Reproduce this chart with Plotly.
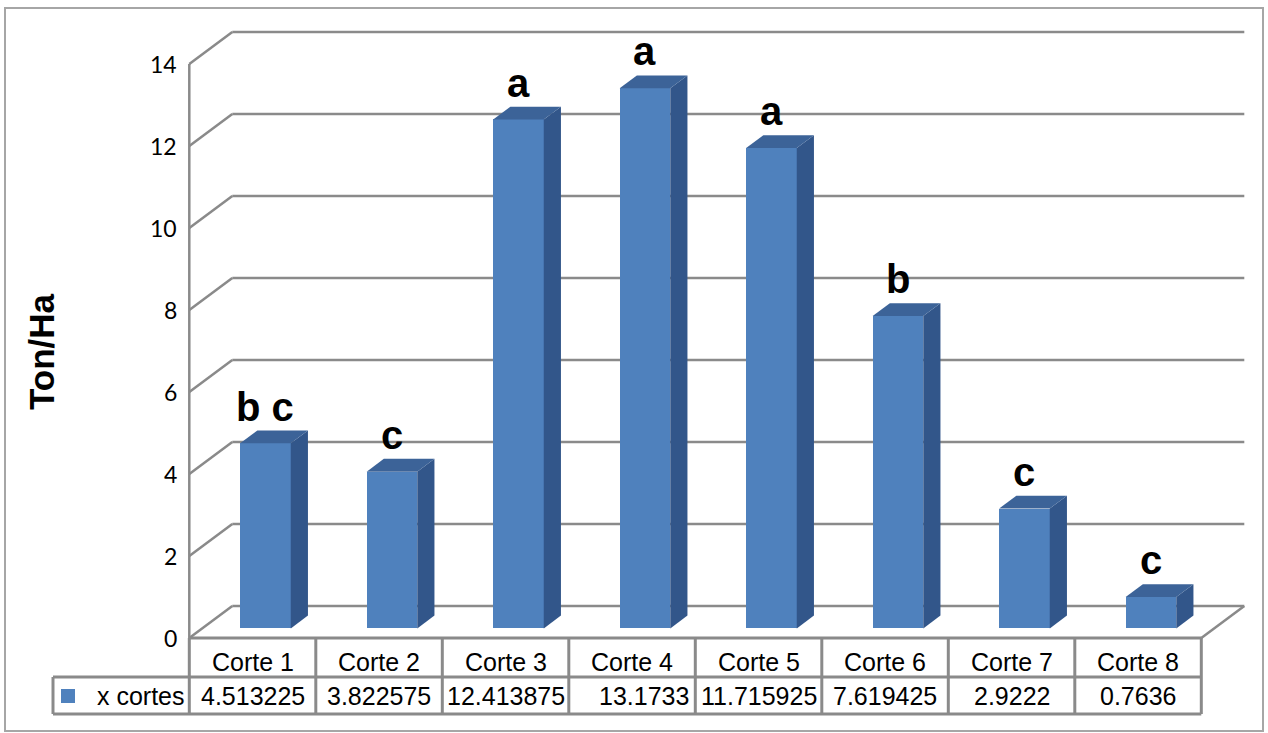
import plotly.graph_objects as go

# ---- data ----
categories = ["Corte 1", "Corte 2", "Corte 3", "Corte 4", "Corte 5", "Corte 6", "Corte 7", "Corte 8"]
values = [4.513225, 3.822575, 12.413875, 13.1733, 11.715925, 7.619425, 2.9222, 0.7636]
value_text = ["4.513225", "3.822575", "12.413875", "13.1733", "11.715925", "7.619425", "2.9222", "0.7636"]
groups = ["b c", "c", "a", "a", "a", "b", "c", "c"]
series_name = "x cortes"
y_ticks = [0, 2, 4, 6, 8, 10, 12, 14]
y_title = "Ton/Ha"

# ---- canvas / oblique projection setup ----
W, H = 1268, 733
X0_PX = 189.3        # pixel column of the front value axis
Y0_PX = 638.0        # pixel row of value 0 on the front plane
PX_PER_CAT = 126.5   # width of one category slot
PX_PER_UNIT = 41.0   # pixels per Ton/Ha
DX = 43 / PX_PER_CAT     # depth shift of the back wall (x units)
DY = 32 / PX_PER_UNIT    # depth shift of the back wall (y units)
Z0, Z1 = 0.3, 0.7        # front / back depth of the columns
BW = 0.40                # column width in category units

n = len(categories)
x_lo, x_hi = -0.5, n - 0.5


def px_x(p):
    return -0.5 + (p - X0_PX) / PX_PER_CAT


def px_y(p):
    return (Y0_PX - p) / PX_PER_UNIT


GRID = "#8a8a8a"
FRONT = "#4f81bd"
SIDE = "#32568a"
TOP = "#3c6398"
TXT = "Liberation Sans, Arial, sans-serif"

fig = go.Figure()
shapes = []

# back wall gridlines with their diagonals, floor outline and front axis (behind the columns)
wall = dict(color=GRID, width=2.5)


def seg(x0, y0, x1, y1, line):
    shapes.append(dict(type="line", xref="x", yref="y", x0=x0, y0=y0, x1=x1, y1=y1,
                       line=line, layer="below"))


for v in y_ticks:
    seg(x_lo, v, x_lo + DX, v + DY, wall)
    seg(x_lo + DX, v + DY, x_hi + DX, v + DY, wall)
seg(x_hi + DX, DY, x_hi, 0, wall)
seg(x_lo, 0, x_lo, max(y_ticks), wall)

# column front faces
base = Z0 * DY
xf = [i + Z0 * DX for i in range(n)]
fig.add_trace(go.Bar(x=xf, y=values, base=base, width=BW,
                     marker=dict(color=FRONT, line=dict(width=0)), name=series_name))

# column side and top faces
dz = Z1 - Z0
for i, v in enumerate(values):
    xl = xf[i] - BW / 2
    xr = xf[i] + BW / 2
    top = base + v
    fig.add_trace(go.Scatter(
        x=[xr, xr + dz * DX, xr + dz * DX, xr, xr],
        y=[base, base + dz * DY, top + dz * DY, top, base],
        mode="lines", fill="toself", fillcolor=SIDE, line=dict(width=0, color=SIDE),
        hoverinfo="skip"))
    fig.add_trace(go.Scatter(
        x=[xl, xr, xr + dz * DX, xl + dz * DX, xl],
        y=[top, top, top + dz * DY, top + dz * DY, top],
        mode="lines", fill="toself", fillcolor=TOP, line=dict(width=0, color=TOP),
        hoverinfo="skip"))

annotations = []

# significance letters above each column
for i, v in enumerate(values):
    annotations.append(dict(x=xf[i], y=base + v + dz * DY, text=groups[i], showarrow=False,
                            xanchor="center", yanchor="bottom",
                            font=dict(family=TXT, size=40, color="black", weight="bold")))

# value axis tick labels
for v in y_ticks:
    annotations.append(dict(x=px_x(179), y=v, text=str(v), showarrow=False,
                            xanchor="right", yanchor="middle",
                            font=dict(family="Lato, sans-serif", size=23, color="black")))

# axis title
annotations.append(dict(x=px_x(41), y=px_y(352), text=y_title, textangle=-90, showarrow=False,
                        xanchor="center", yanchor="middle",
                        font=dict(family=TXT, size=35, color="black", weight="bold")))

# data table: category header row and value row
row1_y = px_y(662)
row2_y = px_y(696)
align = ["center", "center", "center", "right", "center", "center", "center", "center"]
for i in range(n):
    annotations.append(dict(x=i, y=row1_y, text=categories[i], showarrow=False,
                            xanchor="center", yanchor="middle",
                            font=dict(family=TXT, size=25, color="black")))
    if align[i] == "right":
        ax, anc = i + 0.5 - 4 / PX_PER_CAT, "right"
    else:
        ax, anc = i, "center"
    annotations.append(dict(x=ax, y=row2_y, text=value_text[i], showarrow=False,
                            xanchor=anc, yanchor="middle",
                            font=dict(family=TXT, size=25, color="black")))
annotations.append(dict(x=px_x(187), y=row2_y, text=series_name, showarrow=False,
                        xanchor="right", yanchor="middle",
                        font=dict(family=TXT, size=25, color="black")))

# legend key in the table
fig.add_trace(go.Scatter(x=[px_x(68)], y=[row2_y], mode="markers",
                         marker=dict(symbol="square", size=14, color=FRONT),
                         hoverinfo="skip"))

# table grid
tline = dict(color=GRID, width=3)
row_mid = px_y(677)
row_bot = px_y(714)
x_leg = px_x(53)
shapes.append(dict(type="line", xref="x", yref="y", x0=x_lo, x1=x_hi, y0=0, y1=0, line=tline))
shapes.append(dict(type="line", xref="x", yref="y", x0=x_leg, x1=x_hi, y0=row_mid, y1=row_mid, line=tline))
shapes.append(dict(type="line", xref="x", yref="y", x0=x_leg, x1=x_hi, y0=row_bot, y1=row_bot, line=tline))
shapes.append(dict(type="line", xref="x", yref="y", x0=x_leg, x1=x_leg, y0=row_mid, y1=row_bot, line=tline))
for k in range(n + 1):
    xv = x_lo + k
    shapes.append(dict(type="line", xref="x", yref="y", x0=xv, x1=xv, y0=0, y1=row_bot, line=tline))

# outer chart frame
shapes.append(dict(type="rect", xref="paper", yref="paper",
                   x0=5 / W, x1=1263 / W, y0=1 - 731 / H, y1=1 - 8 / H,
                   line=dict(color="#a6a6a6", width=2)))

fig.update_layout(
    width=W, height=H,
    margin=dict(l=0, r=0, t=0, b=0),
    paper_bgcolor="white", plot_bgcolor="white",
    showlegend=False,
    xaxis=dict(range=[px_x(0), px_x(W)], visible=False, fixedrange=True),
    yaxis=dict(range=[px_y(H), px_y(0)], visible=False, fixedrange=True),
    annotations=annotations,
    shapes=shapes,
    bargap=0,
)

fig.write_html("out.html")
